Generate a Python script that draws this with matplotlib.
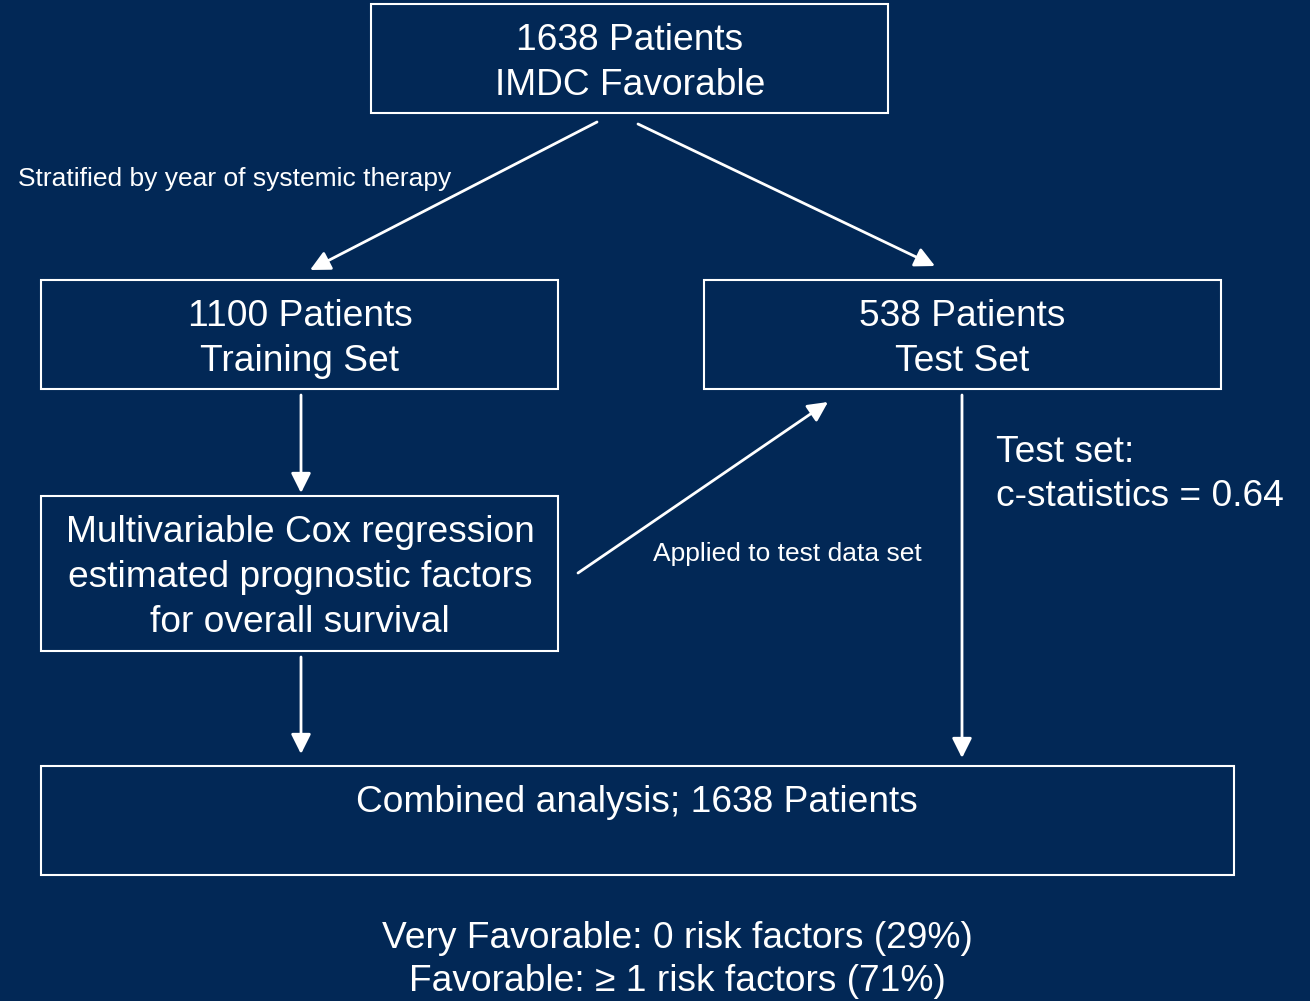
import matplotlib.pyplot as plt
from matplotlib.patches import Rectangle, FancyArrowPatch

plt.rcParams['font.family'] = ['Liberation Sans', 'DejaVu Sans']

BG = '#022856'
FG = 'white'

# boxes: (left, top, right, bottom) in pixel coords, with their text lines
box_edges = [
    (371, 4, 888, 113),
    (41, 280, 558, 389),
    (704, 280, 1221, 389),
    (41, 496, 558, 651),
    (41, 766, 1234, 875),
]
box_texts = [
    ['1638 Patients', 'IMDC Favorable'],
    ['1100 Patients', 'Training Set'],
    ['538 Patients', 'Test Set'],
    ['Multivariable Cox regression', 'estimated prognostic factors', 'for overall survival'],
    ['Combined analysis; 1638 Patients'],
]
box_text_x = [630, 300, 962, 300, 637]
box_text_y0 = [41, 317, 317, 533, 802]

# arrows: start -> end
arrow_starts = [(597, 122), (638, 124), (301, 395), (578, 573), (962, 395), (301, 657)]
arrow_ends = [(310, 270), (935, 266), (301, 493), (828, 402), (962, 758), (301, 754)]

# free labels
note_texts = ['Stratified by year of systemic therapy', 'Applied to test data set']
note_pos = [(18, 179), (653, 554)]
stat_lines = ['Test set:', 'c-statistics = 0.64']
result_lines = ['Very Favorable: 0 risk factors (29%)',
                'Favorable: \u2265 1 risk factors (71%)']

W, H = 1310, 1001
fig = plt.figure(figsize=(W / 100, H / 100), dpi=100, facecolor=BG)
ax = fig.add_axes([0, 0, 1, 1])
ax.set_facecolor(BG)
ax.set_xlim(0, W)
ax.set_ylim(H, 0)
ax.axis('off')

big = 26.7
small = 19
line_gap = 44.5

for (l, t, r, b), lines, tx, ty in zip(box_edges, box_texts, box_text_x, box_text_y0):
    ax.add_patch(Rectangle((l, t), r - l, b - t, fill=False, edgecolor=FG, lw=1.5))
    for i, s in enumerate(lines):
        ax.text(tx, ty + i * line_gap, s, color=FG, fontsize=big,
                ha='center', va='center')

for s, e in zip(arrow_starts, arrow_ends):
    ax.add_patch(FancyArrowPatch(s, e, arrowstyle='-|>,head_length=0.6,head_width=0.3',
                                 mutation_scale=20, color=FG, lw=2,
                                 shrinkA=0, shrinkB=0))

for s, (x, y) in zip(note_texts, note_pos):
    ax.text(x, y, s, color=FG, fontsize=small, ha='left', va='center')

for i, s in enumerate(stat_lines):
    ax.text(996, 452 + i * line_gap, s, color=FG, fontsize=big, ha='left', va='center')

for i, s in enumerate(result_lines):
    ax.text(677, 938 + i * 43.5, s, color=FG, fontsize=big, ha='center', va='center')

fig.savefig('out.png', dpi=100, facecolor=BG)
